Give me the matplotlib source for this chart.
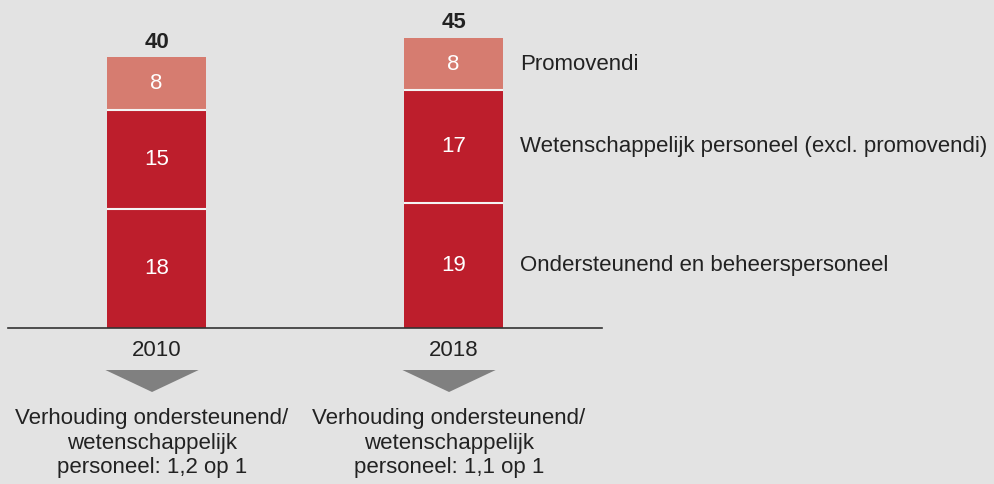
import matplotlib.pyplot as plt
import matplotlib.transforms as mtransforms
from matplotlib.patches import Polygon
import numpy as np

plt.rcParams["font.family"] = ["Liberation Sans", "DejaVu Sans"]

# data
years = ["2010", "2018"]
ondersteunend = [18, 19]
wetenschappelijk = [15, 17]
promovendi = [8, 8]
totals = [40, 45]
series_labels = [
    "Ondersteunend en beheerspersoneel",
    "Wetenschappelijk personeel (excl. promovendi)",
    "Promovendi",
]
notes = [
    "Verhouding ondersteunend/\nwetenschappelijk\npersoneel: 1,2 op 1",
    "Verhouding ondersteunend/\nwetenschappelijk\npersoneel: 1,1 op 1",
]

bg = "#e3e3e3"
dark_red = "#bd1e2c"
light_red = "#d67c70"
txt = "#222222"

W, H = 994, 484
fig = plt.figure(figsize=(W / 100, H / 100), dpi=100, facecolor=bg)
ax = fig.add_axes([8 / W, (H - 328) / H, (602 - 8) / W, 328 / H])
ax.set_facecolor(bg)

x = np.arange(len(years))
width = 0.333
stack = [ondersteunend, wetenschappelijk, promovendi]
colors = [dark_red, dark_red, light_red]
bottom = np.zeros(len(years))
for i, (vals, col) in enumerate(zip(stack, colors)):
    vals = np.array(vals, dtype=float)
    ax.bar(x, vals, width, bottom=bottom, color=col, linewidth=0)
    if i > 0:
        # white separator between segments
        ax.hlines(bottom, x - width / 2, x + width / 2, color="#f4f4f4", linewidth=1.5)
    for xi, b, v in zip(x, bottom, vals):
        ax.text(xi, b + v / 2, f"{v:.0f}", ha="center", va="center",
                color="white", fontsize=16)
    bottom = bottom + vals

for xi, b, t in zip(x, bottom, totals):
    ax.annotate(f"{t}", (xi, b), xytext=(0, 3), textcoords="offset points",
                ha="center", va="bottom", fontsize=16, fontweight="bold", color=txt)

# series labels to the right of the last bar
cum = np.cumsum([0] + [s[-1] for s in stack])
for lab, lo, hi in zip(series_labels, cum[:-1], cum[1:]):
    ax.text(1.224, (lo + hi) / 2, lab, ha="left", va="center", fontsize=16,
            color=txt, clip_on=False)

ax.set_xlim(-0.5, 1.5)
ax.set_ylim(0, 49.7)
ax.set_xticks(x)
ax.set_xticklabels(years, fontsize=16, color=txt)
ax.tick_params(axis="x", length=0, pad=9)
ax.set_yticks([])
for s in ["top", "right", "left"]:
    ax.spines[s].set_visible(False)
ax.spines["bottom"].set_color("#333333")
ax.spines["bottom"].set_linewidth(1.2)
ax.spines["bottom"].set_zorder(5)

# arrows and ratio notes below each year
trans = mtransforms.blended_transform_factory(ax.transData, fig.transFigure)
tri_top = (H - 370) / H
tri_bot = (H - 392) / H
for xi, note in zip(x, notes):
    xc = xi - 0.015
    tri = Polygon([[xc - 0.157, tri_top], [xc + 0.157, tri_top], [xc, tri_bot]],
                  closed=True, facecolor="#808080", edgecolor="none",
                  transform=trans, clip_on=False)
    fig.add_artist(tri)
    ax.text(xc, (H - 443) / H, note, transform=trans, ha="center",
            va="center", fontsize=16, color=txt, linespacing=1.2, clip_on=False)

fig.savefig("out.png", dpi=100, facecolor=bg)
